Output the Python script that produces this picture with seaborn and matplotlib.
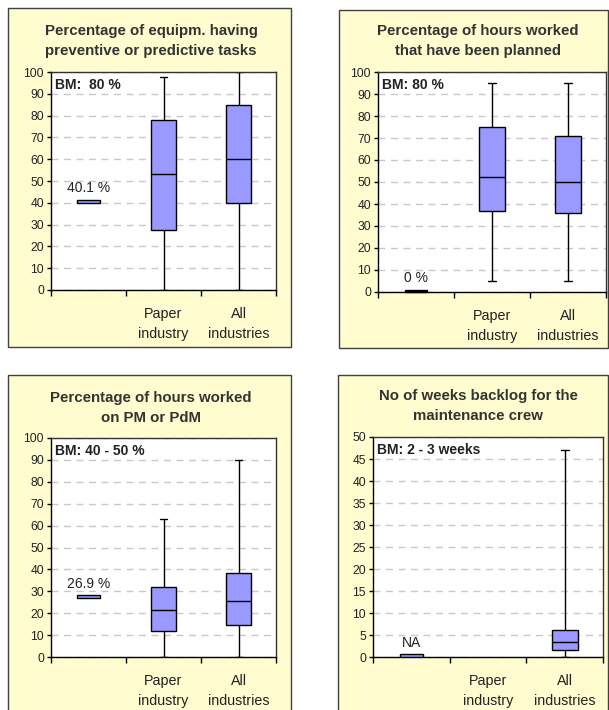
import numpy as np
import pandas as pd
import matplotlib
matplotlib.use('Agg')
import matplotlib.pyplot as plt
import seaborn as sns
from matplotlib.patches import Rectangle

# ============================================
# Data
# ============================================
GROUPS = ['Company', 'Paper industry', 'All industries']
TICK_LABELS = ['Paper\nindustry', 'All\nindustries']

TITLES = [
    'Percentage of equipm. having\npreventive or predictive tasks',
    'Percentage of hours worked\nthat have been planned',
    'Percentage of hours worked\non PM or PdM',
    'No of weeks backlog for the\nmaintenance crew',
]
BM_LABELS = ['BM:  80 %', 'BM: 80 %', 'BM: 40 - 50 %', 'BM: 2 - 3 weeks']

COMPANY_VALUES = [40.1, 0.0, 26.9, None]
COMPANY_LABELS = ['40.1 %', '0 %', '26.9 %', 'NA']

# min, q1, median, q3, max
PAPER_STATS = [
    [0, 27.5, 53, 78, 97.5],
    [5, 37, 52.5, 75, 95],
    [0, 12, 21.5, 32, 63],
    None,
]
ALL_STATS = [
    [0, 40, 60, 85, 100],
    [5, 36, 50, 71, 95],
    [0, 14.5, 25.5, 38.5, 90],
    [0, 1.7, 3.5, 6.2, 47],
]
YMAX = [100, 100, 100, 50]
YSTEP = [10, 10, 10, 5]

# ============================================
# Layout (pixels of a 609x710 canvas)
# ============================================
W, H = 609, 710
BOX_COLOR = '#9999FF'
PANEL_COLOR = '#FFFCCF'
BOX_WIDTH = 0.34
CAP_WIDTH = 0.1

# outer panel frames: x0, y0, x1, y1
FRAMES = [(8, 8, 291, 347), (339, 10, 608, 348), (8, 375, 291, 714), (338, 375, 608, 714)]
# axes areas: x0, y0, x1, y1
AXES_PX = [(51, 72, 276, 290), (378, 72, 606, 292), (51, 438, 276, 657), (373, 437, 603, 657)]
TITLE_POS = [(151, 41), (478, 41), (151, 408), (478, 406)]

sns.set_style('white')
plt.rcParams['font.family'] = ['Liberation Sans', 'DejaVu Sans']

fig = plt.figure(figsize=(W / 100, H / 100), dpi=100)

for x0, y0, x1, y1 in FRAMES:
    fig.add_artist(Rectangle((x0 / W, 1 - y1 / H), (x1 - x0) / W, (y1 - y0) / H,
                             transform=fig.transFigure, facecolor=PANEL_COLOR,
                             edgecolor='#404040', linewidth=1, zorder=-5))

for i in range(4):
    x0, y0, x1, y1 = AXES_PX[i]
    ax = fig.add_axes([x0 / W, 1 - y1 / H, (x1 - x0) / W, (y1 - y0) / H])
    ax.set_facecolor('white')

    rows = []
    for grp, stats in zip(GROUPS[1:], (PAPER_STATS[i], ALL_STATS[i])):
        if stats is None:
            continue
        rows += [(grp, v) for v in stats]
    df = pd.DataFrame(rows, columns=['group', 'value'])

    sns.boxplot(data=df, x='group', y='value', order=GROUPS, whis=(0, 100),
                width=BOX_WIDTH, color=BOX_COLOR, linecolor='black', linewidth=1,
                saturation=1, fliersize=0, ax=ax)

    # narrow the whisker caps
    for ln in ax.lines:
        xs, ys = np.asarray(ln.get_xdata(), float), np.asarray(ln.get_ydata(), float)
        if len(xs) == 2 and ys[0] == ys[1] and 0 < abs(xs[1] - xs[0]) < BOX_WIDTH * 0.9:
            c = xs.mean()
            ln.set_xdata([c - CAP_WIDTH / 2, c + CAP_WIDTH / 2])

    # company value marker
    ymax = YMAX[i]
    val = COMPANY_VALUES[i]
    if val is None:
        ax.bar(0, 0.012 * ymax, bottom=0, width=0.3, color=BOX_COLOR,
               edgecolor='black', linewidth=1, zorder=3)
        base = 0
    elif val == 0:
        ax.bar(0, 0.008 * ymax, bottom=0, width=0.3, color='black',
               edgecolor='black', linewidth=1, zorder=3, clip_on=False)
        base = 0
    else:
        ax.bar(0, 0.014 * ymax, bottom=val, width=0.3, color=BOX_COLOR,
               edgecolor='black', linewidth=1, zorder=3)
        base = val
    ax.text(0, base + 0.065 * ymax, COMPANY_LABELS[i], ha='center', va='center',
            fontsize=10, color='#222222')

    ax.text(0.018, 0.94, BM_LABELS[i], transform=ax.transAxes, ha='left',
            va='center', fontsize=10, fontweight='bold', color='#222222')

    ax.set_ylim(0, ymax)
    ax.set_yticks(np.arange(0, ymax + 1, YSTEP[i]))
    ax.set_xlim(-0.5, 2.5)
    ax.set_xticks([-0.5, 0.5, 1.5, 2.5])
    ax.set_xticklabels([])
    ax.set_xticks([1, 2], minor=True)
    ax.set_xticklabels(TICK_LABELS, minor=True)
    for t in ax.get_xticklabels(minor=True):
        t.set_linespacing(1.55)
    ax.set_xlabel('')
    ax.set_ylabel('')

    ax.tick_params(axis='x', which='major', bottom=True, length=4, width=1,
                   direction='out', color='black')
    ax.tick_params(axis='x', which='minor', bottom=True, length=0, pad=12,
                   labelsize=10.3, labelcolor='#222222')
    ax.tick_params(axis='y', left=True, length=3, width=1, direction='out',
                   pad=2, labelsize=8.7, labelcolor='#222222', color='black')

    ax.yaxis.grid(True, color='#C8C8C8', linestyle=(0, (5, 4)), linewidth=1)
    ax.xaxis.grid(False)
    ax.set_axisbelow(True)
    for side, sp in ax.spines.items():
        sp.set_visible(True)
        sp.set_linewidth(1)
        sp.set_color('black' if side in ('left', 'bottom') else '#333333')

    tx, ty = TITLE_POS[i]
    fig.text(tx / W, 1 - ty / H, TITLES[i], ha='center', va='center',
             fontsize=10.8, fontweight='bold', color='#333333', linespacing=1.5)

fig.savefig('out.png', dpi=100)
